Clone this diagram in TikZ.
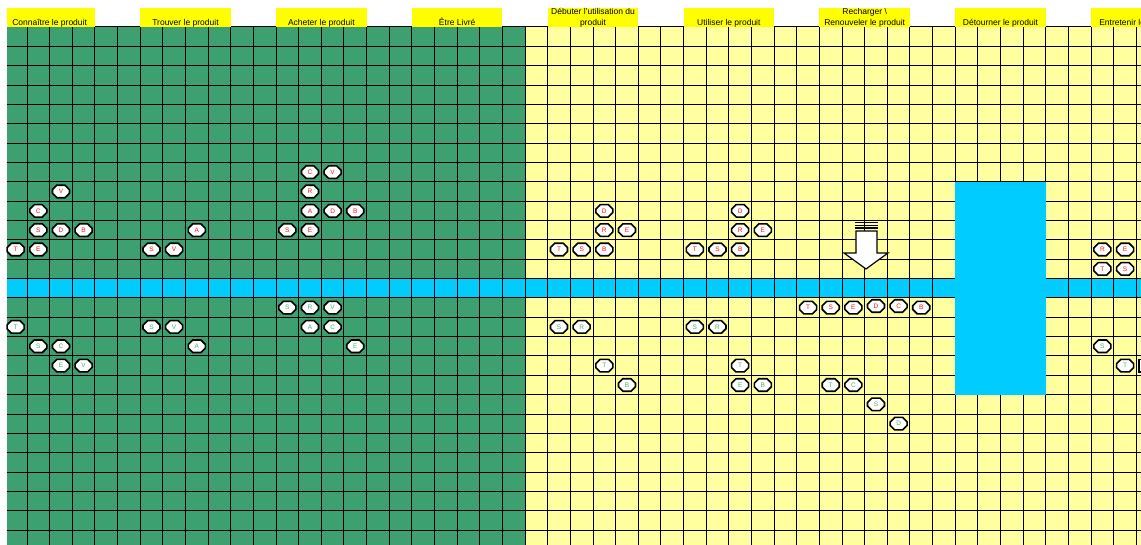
\documentclass[tikz,border=0pt]{standalone}
\usepackage{fontspec}
\setmainfont{Liberation Sans}
\usetikzlibrary{shapes.misc}

\definecolor{sheetgreen}{RGB}{61,160,112}
\definecolor{sheetyellow}{RGB}{255,255,160}
\definecolor{bandcyan}{RGB}{0,204,255}
\definecolor{headyellow}{RGB}{255,255,0}
\definecolor{tokred}{RGB}{255,20,20}
\definecolor{tokgreen}{RGB}{70,175,115}

\newcommand{\colw}{22.64}
\newcommand{\rowh}{19.35}

\tikzset{
  gridline/.style={line width=1pt, draw=black},
  phase/.style={anchor=south, inner sep=0pt, text depth=1.9pt, align=center,
    font=\fontsize{8.5}{10.5}\selectfont},
  token/.style={chamfered rectangle, chamfered rectangle sep=2.5pt, draw=black,
    line width=1.6pt, fill=white, minimum width=17pt, minimum height=12.5pt,
    inner sep=0pt, font=\fontsize{6.5}{6.5}\selectfont},
  redtok/.style={token, text=tokred},
  greentok/.style={token, text=tokgreen},
}

\begin{document}
\begin{tikzpicture}[x=1pt, y=-1pt]
  % Frame
  \clip (0,0) rectangle (1141,545);
  \fill[white] (0,0) rectangle (1141,545);

  % Sheet background
  \fill[sheetgreen] (7,27) rectangle ({27+22*\colw},545);
  \fill[sheetyellow] ({27+22*\colw},27) rectangle (1141,545);
  \fill[bandcyan] (7,{27+13*\rowh}) rectangle (1141,{27+14*\rowh});

  % Grid
  \foreach \j in {0,...,49}
    \draw[gridline] ({27+\j*\colw},27) -- ({27+\j*\colw},545);
  \foreach \r in {0,...,27}
    \draw[gridline] (7,{27+\r*\rowh}) -- (1141,{27+\r*\rowh});

  % Block over the grid
  \fill[bandcyan] ({27+41*\colw},{27+8*\rowh}) rectangle ({27+45*\colw},{27+19*\rowh});

  % Phase headers
  \foreach \k in {0,...,8}
    \fill[headyellow] ({max(7,27+(6*\k-1)*\colw)},8) rectangle ({27+(6*\k+3)*\colw},27);

  \begin{scope}
    \clip (0,8) rectangle (1141,27);
    \node[phase] (h1) at ({27+1*\colw},27.4)  {Connaître le produit};
    \node[phase] (h2) at ({27+7*\colw},27.4)  {Trouver le produit};
    \node[phase] (h3) at ({27+13*\colw},27.4) {Acheter le produit};
    \node[phase] (h4) at ({27+19*\colw},27.4) {Être Livré};
    \node[phase] (h5) at ({27+25*\colw},27.4) {Débuter l'utilisation du\\produit};
    \node[phase] (h6) at ({27+31*\colw},27.4) {Utiliser le produit};
    \node[phase] (h7) at ({27+37*\colw},27.4) {Recharger \textbackslash\\Renouveler le produit};
    \node[phase] (h8) at ({27+43*\colw},27.4) {Détourner le produit};
    \node[phase] (h9) at ({27+49*\colw},27.4) {Entretenir le produit};
  \end{scope}

  % Down arrow
  \draw[line width=1.2pt, fill=white, line join=miter]
    (856,231) -- (877,231) -- (877,253) -- (888,253) -- (866,269)
    -- (844,253) -- (856,253) -- cycle;
  \foreach \y in {222.4,225.2,228}
    \draw[line width=1.3pt] (855,\y) -- (878,\y);

  % Tokens, red letters
  \foreach \j/\r/\l [count=\n] in {1/8/V, 0/9/C, 0/10/S, 1/10/D, 2/10/B, 7/10/A,
      -1/11/T, 0/11/E, 5/11/S, 6/11/V,
      12/7/C, 13/7/V, 12/8/R, 12/9/A, 13/9/D, 14/9/B, 11/10/S, 12/10/E,
      25/9/D, 25/10/R, 26/10/E, 23/11/T, 24/11/S, 25/11/B,
      31/9/D, 31/10/R, 32/10/E, 29/11/T, 30/11/S, 31/11/B,
      47/11/R, 48/11/E, 47/12/T, 48/12/S,
      34/14/T, 35/14/S, 36/14/E, 37/13.92/D, 38/13.92/C, 39/14/B}
    \node[redtok] (r\n) at ({27+(\j+0.5)*\colw},{27+(\r+0.5)*\rowh}) {\l};

  % Tokens, green letters
  \foreach \j/\r/\l [count=\n] in {11/14/S, 12/14/R, 13/14/V,
      -1/15/T, 5/15/S, 6/15/V, 12/15/A, 13/15/C,
      0/16/S, 1/16/C, 7/16/A, 14/16/E, 1/17/E, 2/17/V,
      23/15/S, 24/15/R, 25/17/T, 26/18/B,
      29/15/S, 30/15/R, 31/17/T, 31/18/E, 32/18/B,
      35/18/T, 36/18/C, 37/19/S, 38/20/D,
      47/16/S, 48/17/T, 49/17/{}}
    \node[greentok] (g\n) at ({27+(\j+0.5)*\colw},{27+(\r+0.5)*\rowh}) {\l};
\end{tikzpicture}
\end{document}
